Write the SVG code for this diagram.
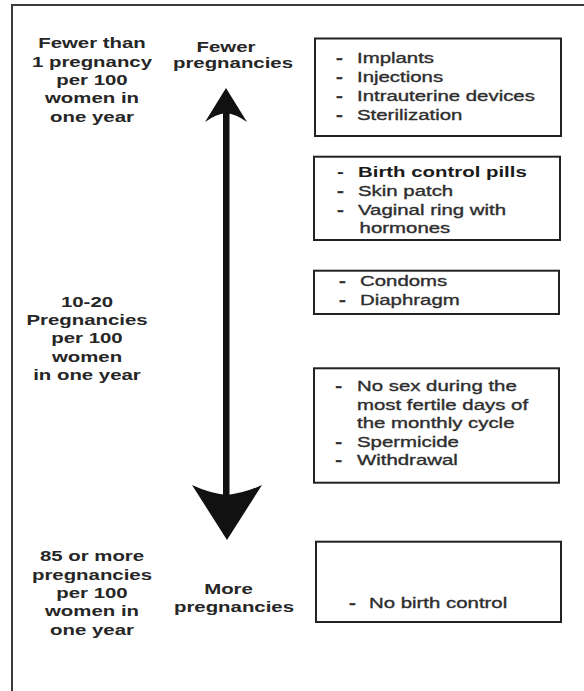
<svg xmlns="http://www.w3.org/2000/svg" width="584" height="691" viewBox="0 0 584 691">
<style>
.frame{fill:none;stroke:#3a3a3a;stroke-width:2}
.box{fill:#fff;stroke:#222;stroke-width:2}
.lb{font-family:"Liberation Sans",Arial,sans-serif;font-size:15px;font-weight:bold;fill:#262626;text-anchor:middle}
.bt{font-family:"Liberation Sans",Arial,sans-serif;font-size:15px;fill:#2e2e2e;stroke:#2e2e2e;stroke-width:0.35}
.b{font-weight:bold;fill:#1a1a1a;stroke:none}
.d{font-weight:bold}
.arrow{fill:#111}
</style>
<rect width="584" height="691" fill="#fff"/>
<g id="frame">
<path class="frame" d="M12,691 V5 H584"/>
</g>
<g id="connectors">
<rect class="arrow" x="223" y="112" width="6.5" height="384"/>
<path class="arrow" d="M226,88 L247,122 Q236,114 226,113 Q216,114 205,122 Z"/>
<path class="arrow" d="M227,540 L262,485 Q245,493 227,495 Q209,493 192,485 Z"/>
</g>
<g id="label-fewer-than-1">
<g transform="translate(92,0) scale(1.36,1)">
<text class="lb" x="0" y="48.3">Fewer than</text>
<text class="lb" x="0" y="66.6">1 pregnancy</text>
<text class="lb" x="0" y="85">per 100</text>
<text class="lb" x="0" y="103.3">women in</text>
<text class="lb" x="0" y="121.6">one year</text>
</g>
</g>
<g id="label-10-20">
<g transform="translate(87,0) scale(1.36,1)">
<text class="lb" x="0" y="306.7">10-20</text>
<text class="lb" x="0" y="325">Pregnancies</text>
<text class="lb" x="0" y="343.3">per 100</text>
<text class="lb" x="0" y="361.7">women</text>
<text class="lb" x="0" y="380">in one year</text>
</g>
</g>
<g id="label-85-or-more">
<g transform="translate(92,0) scale(1.36,1)">
<text class="lb" x="0" y="561.5">85 or more</text>
<text class="lb" x="0" y="580">pregnancies</text>
<text class="lb" x="0" y="598">per 100</text>
<text class="lb" x="0" y="616.5">women in</text>
<text class="lb" x="0" y="635">one year</text>
</g>
</g>
<g id="label-fewer-pregnancies">
<g transform="translate(226,0) scale(1.36,1)"><text class="lb" x="0" y="52">Fewer</text></g>
<g transform="translate(233,0) scale(1.36,1)"><text class="lb" x="0" y="68.5">pregnancies</text></g>
</g>
<g id="label-more-pregnancies">
<g transform="translate(228.5,0) scale(1.36,1)"><text class="lb" x="0" y="594">More</text></g>
<g transform="translate(234,0) scale(1.36,1)"><text class="lb" x="0" y="611.7">pregnancies</text></g>
</g>
<g id="box-most-effective">
<rect class="box" x="315" y="38.5" width="246" height="97.5"/>
<g transform="translate(357,0) scale(1.36,1)">
<text class="bt" y="63"><tspan class="d" x="-15.4">-</tspan><tspan x="0">Implants</tspan></text>
<text class="bt" y="82"><tspan class="d" x="-15.4">-</tspan><tspan x="0">Injections</tspan></text>
<text class="bt" y="101"><tspan class="d" x="-15.4">-</tspan><tspan x="0">Intrauterine devices</tspan></text>
<text class="bt" y="120"><tspan class="d" x="-15.4">-</tspan><tspan x="0">Sterilization</tspan></text>
</g>
</g>
<g id="box-hormonal">
<rect class="box" x="314" y="156.7" width="246" height="83.3"/>
<g transform="translate(358,0) scale(1.36,1)">
<text class="bt b" y="177.3"><tspan x="-15.4">-</tspan><tspan x="0">Birth control pills</tspan></text>
<text class="bt" y="196"><tspan class="d" x="-15.4">-</tspan><tspan x="0">Skin patch</tspan></text>
<text class="bt" y="214.7"><tspan class="d" x="-15.4">-</tspan><tspan x="0">Vaginal ring with</tspan></text>
<text class="bt" y="233.3"><tspan x="1.2">hormones</tspan></text>
</g>
</g>
<g id="box-barrier">
<rect class="box" x="314" y="270.7" width="245" height="43.3"/>
<g transform="translate(360,0) scale(1.36,1)">
<text class="bt" y="286"><tspan class="d" x="-15.4">-</tspan><tspan x="0">Condoms</tspan></text>
<text class="bt" y="305"><tspan class="d" x="-15.4">-</tspan><tspan x="0">Diaphragm</tspan></text>
</g>
</g>
<g id="box-behavioral">
<rect class="box" x="314" y="368.3" width="245" height="114.4"/>
<g transform="translate(357,0) scale(1.36,1)">
<text class="bt" y="391.5"><tspan class="d" x="-16">-</tspan><tspan x="0">No sex during the</tspan></text>
<text class="bt" y="410"><tspan x="0">most fertile days of</tspan></text>
<text class="bt" y="428.5"><tspan x="0">the monthly cycle</tspan></text>
<text class="bt" y="447"><tspan class="d" x="-16">-</tspan><tspan x="0">Spermicide</tspan></text>
<text class="bt" y="465.5"><tspan class="d" x="-16">-</tspan><tspan x="0">Withdrawal</tspan></text>
</g>
</g>
<g id="box-none">
<rect class="box" x="316" y="541.7" width="245" height="80.3"/>
<g transform="translate(369,0) scale(1.36,1)">
<text class="bt" y="608"><tspan class="d" x="-14.7">-</tspan><tspan x="0">No birth control</tspan></text>
</g>
</g>
</svg>
